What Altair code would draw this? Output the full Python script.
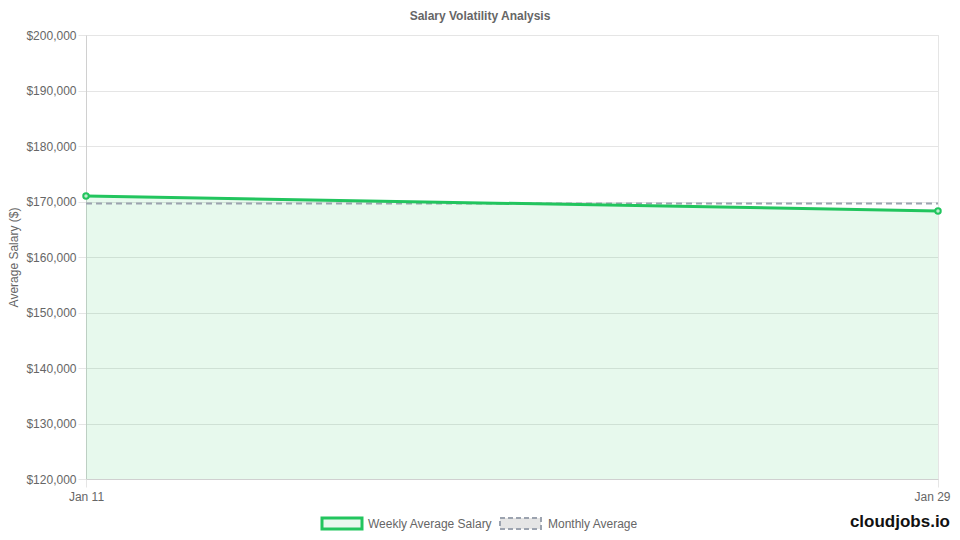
import altair as alt
import pandas as pd

dates = ["Jan 11", "Jan 29"]
weekly_avg = [171000, 168300]
monthly_avg = [169650, 169650]

legend_labels = ["Weekly Average Salary", "Monthly Average"]
watermark = "cloudjobs.io"

df = pd.DataFrame({"date": dates, "weekly": weekly_avg, "monthly": monthly_avg})

GREEN = "#22c55e"
GRAY = "#9ca3af"
TXT = "#666666"
FONT = "Liberation Sans"

x_enc = alt.X(
    "date:O",
    sort=dates,
    scale=alt.Scale(type="point", padding=0),
    axis=alt.Axis(title=None, labelAngle=0, grid=True, gridColor="#e5e5e5",
                  tickColor="#e5e5e5", tickSize=8, domainColor="#d0d0d0",
                  labelColor=TXT, labelFontSize=12, labelFont=FONT, labelPadding=4,
                  labelOffset={"condition": {"test": "datum.value == 'Jan 29'", "value": -6}, "value": 0}),
)
y_scale = alt.Scale(domain=[120000, 200000], nice=False)
y_axis = alt.Axis(
    title="Average Salary ($)", values=list(range(120000, 200001, 10000)), format="$,.0f",
    grid=True, gridColor="#e5e5e5", tickColor="#e5e5e5", tickSize=8,
    domainColor="#d0d0d0", labelColor=TXT, labelFontSize=12, labelFont=FONT,
    labelPadding=2, titleColor=TXT, titleFontSize=12, titleFont=FONT,
    titleFontWeight="normal", titlePadding=5,
)

base = alt.Chart(df)

area = base.mark_area(color=GREEN, opacity=0.11).encode(
    x=x_enc, y=alt.Y("weekly:Q", scale=y_scale, axis=y_axis), y2=alt.datum(120000)
)
avg_line = base.mark_line(color=GRAY, strokeWidth=2, strokeDash=[6, 4]).encode(
    x=x_enc, y=alt.Y("monthly:Q", scale=y_scale)
)
line = base.mark_line(color=GREEN, strokeWidth=3).encode(
    x=x_enc, y=alt.Y("weekly:Q", scale=y_scale)
)
pts = base.mark_point(filled=True, fill="#bfeccf", stroke=GREEN, strokeWidth=2, size=30, opacity=1).encode(
    x=x_enc, y=alt.Y("weekly:Q", scale=y_scale)
)

# manual legend
one = alt.Chart(pd.DataFrame({"a": [0]}))
box1 = one.mark_rect(fill="#e8f8ee", stroke=GREEN, strokeWidth=3).encode(
    x=alt.value(236), x2=alt.value(276), y=alt.value(483), y2=alt.value(494)
)
box2 = one.mark_rect(fill="#e5e5e5", stroke=GRAY, strokeWidth=2, strokeDash=[5, 3]).encode(
    x=alt.value(414), x2=alt.value(455), y=alt.value(483), y2=alt.value(494)
)
txt1 = alt.Chart(pd.DataFrame({"t": [legend_labels[0]]})).mark_text(
    align="left", baseline="middle", fontSize=12, font=FONT, color=TXT
).encode(text="t:N", x=alt.value(282), y=alt.value(489))
txt2 = alt.Chart(pd.DataFrame({"t": [legend_labels[1]]})).mark_text(
    align="left", baseline="middle", fontSize=12, font=FONT, color=TXT
).encode(text="t:N", x=alt.value(462), y=alt.value(489))
wm = alt.Chart(pd.DataFrame({"t": [watermark]})).mark_text(
    align="right", baseline="middle", fontSize=17, font=FONT, fontWeight="bold", color="#111111"
).encode(text="t:N", x=alt.value(864), y=alt.value(487))

chart = alt.layer(area, avg_line, line, pts, box1, box2, txt1, txt2, wm).properties(
    width=852, height=444,
    title=alt.TitleParams("Salary Volatility Analysis", fontSize=12, fontWeight="bold",
                          color=TXT, font=FONT, dx=-32, offset=6),
    autosize=alt.AutoSizeParams(type="none"),
    padding={"left": 78, "top": 27, "right": 14, "bottom": 53},
).configure_view(stroke="#e5e5e5")

chart.save("out.html", embed_options={"renderer": "svg", "actions": False})
